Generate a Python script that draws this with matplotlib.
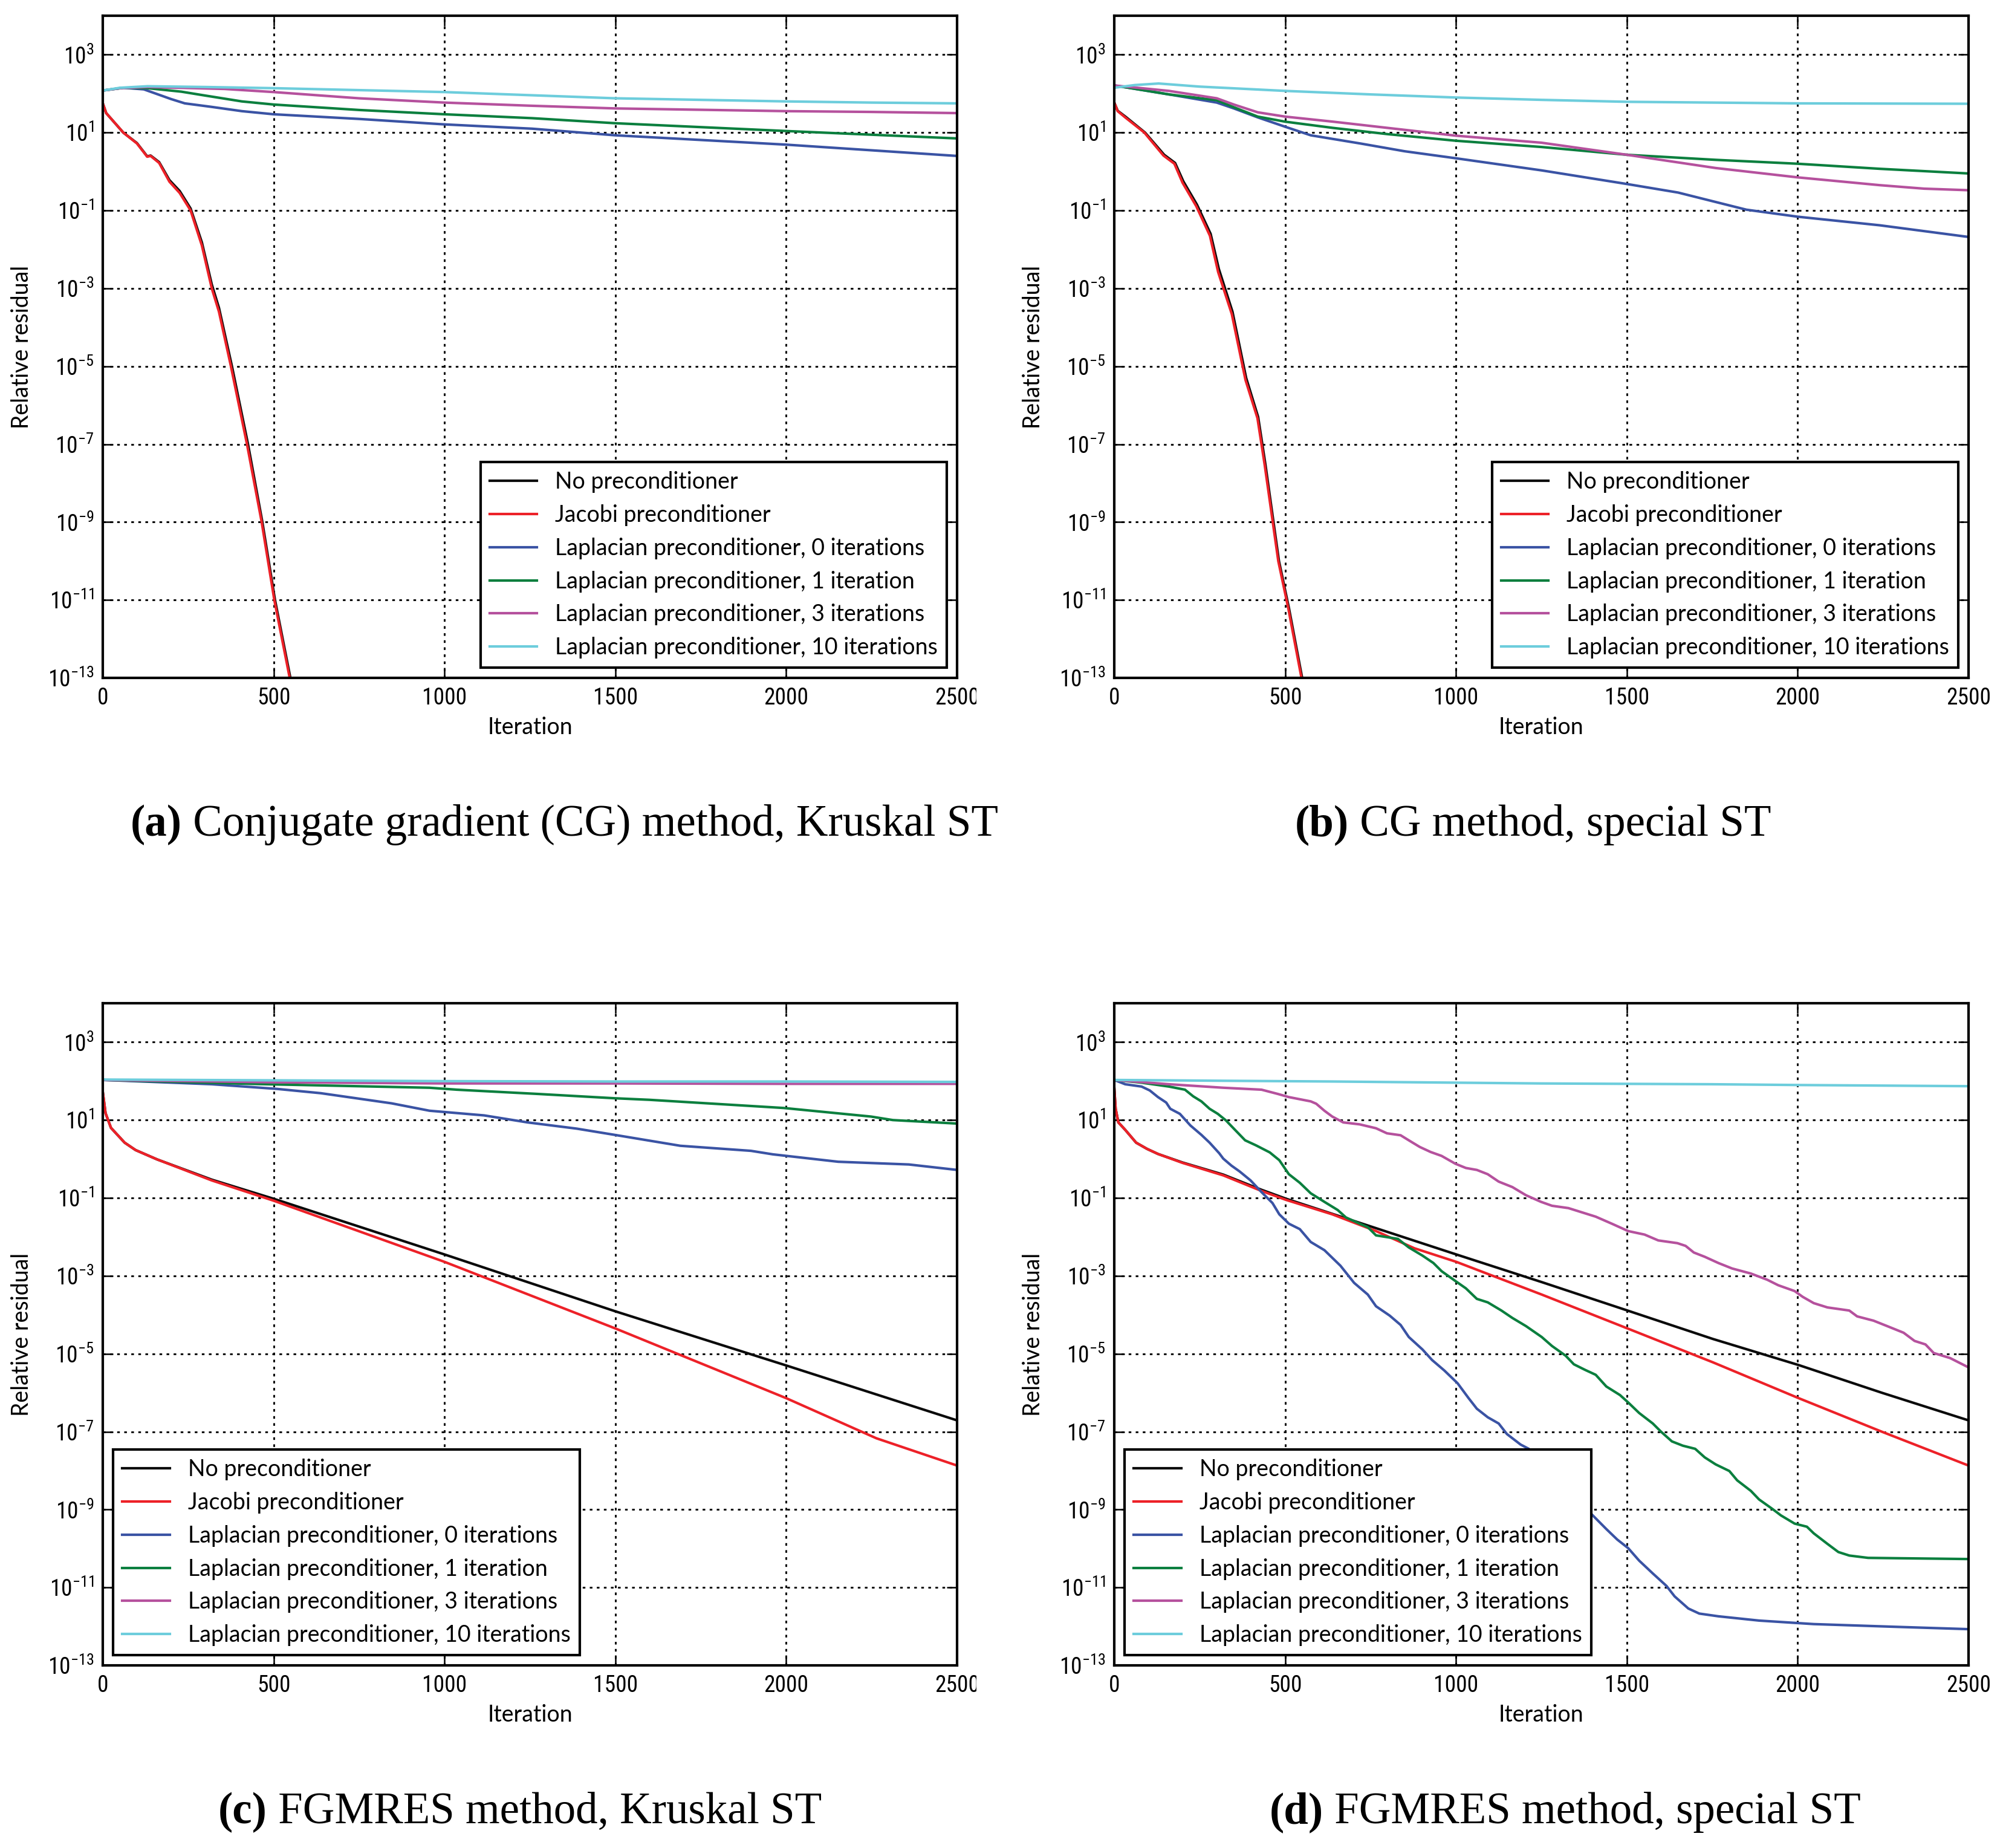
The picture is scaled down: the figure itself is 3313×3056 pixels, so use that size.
import numpy as np
import matplotlib
matplotlib.use('Agg')
import matplotlib.pyplot as plt
from matplotlib import font_manager
from matplotlib.transforms import Bbox, TransformedBbox


def pick_font(*names):
    have = {f.name for f in font_manager.fontManager.ttflist}
    for n in names:
        if n in have:
            return n
    return 'DejaVu Sans'


SANS = pick_font('Lato', 'Open Sans', 'Noto Sans')
TICK = pick_font('Liberation Sans Narrow', 'Roboto Condensed', 'DejaVu Sans')
SERIF = pick_font('Liberation Serif', 'DejaVu Serif')

# (iteration, log10 relative residual)
# --- (a) CG, Kruskal ST ---
A_NONE = [(0, 1.75), (10, 1.5), (30, 1.3), (60, 1.0), (100, 0.73), (130, 0.39), (140, 0.41),
          (165, 0.24), (195, -0.22), (225, -0.5), (257, -0.95), (290, -1.82), (319, -2.9),
          (340, -3.5), (378, -5.0), (425, -7.0), (467, -9.0), (504, -11.0), (549, -13.0), (562, -13.6)]
A_JACOBI = [(0, 1.75), (10, 1.5), (30, 1.3), (60, 1.0), (100, 0.72), (130, 0.38), (140, 0.40),
            (165, 0.22), (195, -0.26), (225, -0.55), (257, -1.0), (290, -1.9), (319, -3.0),
            (340, -3.6), (375, -5.0), (422, -7.0), (465, -9.0), (502, -11.0), (547, -13.0), (560, -13.6)]
A_LAP0 = [(0, 2.08), (60, 2.15), (120, 2.11), (200, 1.86), (240, 1.75), (318, 1.66), (407, 1.55),
          (500, 1.47), (750, 1.35), (1000, 1.21), (1256, 1.10), (1500, 0.93), (2000, 0.69), (2500, 0.40)]
A_LAP1 = [(0, 2.08), (60, 2.15), (131, 2.14), (230, 2.05), (300, 1.95), (407, 1.80), (500, 1.72),
          (750, 1.58), (1000, 1.47), (1256, 1.37), (1500, 1.24), (2000, 1.04), (2500, 0.85)]
A_LAP3 = [(0, 2.08), (50, 2.14), (131, 2.17), (356, 2.12), (500, 2.04), (750, 1.88), (1000, 1.77),
          (1250, 1.69), (1500, 1.62), (2000, 1.55), (2250, 1.53), (2500, 1.50)]
A_LAP10 = [(0, 2.08), (50, 2.15), (131, 2.19), (300, 2.17), (500, 2.14), (750, 2.09), (1000, 2.04),
           (1250, 1.96), (1500, 1.88), (1750, 1.84), (2000, 1.80), (2250, 1.77), (2500, 1.75)]

# --- (b) CG, special ST ---
B_NONE = [(0, 1.77), (10, 1.56), (34, 1.40), (90, 1.0), (146, 0.43), (178, 0.22), (202, -0.25),
          (242, -0.85), (282, -1.6), (306, -2.5), (346, -3.6), (386, -5.3), (421, -6.3),
          (442, -7.5), (482, -10.0), (511, -11.2), (549, -12.96), (562, -13.6)]
B_JACOBI = [(0, 1.77), (10, 1.55), (32, 1.39), (88, 1.0), (144, 0.41), (176, 0.20), (200, -0.29),
            (240, -0.89), (280, -1.65), (304, -2.58), (344, -3.66), (384, -5.35), (419, -6.33),
            (440, -7.52), (480, -10.0), (509, -11.2), (547, -12.96), (560, -13.6)]
B_LAP0 = [(0, 2.21), (160, 1.98), (300, 1.77), (350, 1.62), (420, 1.39), (500, 1.15), (575, 0.93),
          (720, 0.72), (850, 0.52), (1000, 0.34), (1250, 0.03), (1500, -0.32), (1650, -0.54),
          (1850, -0.98), (2000, -1.16), (2240, -1.38), (2500, -1.68)]
B_LAP1 = [(0, 2.21), (160, 1.98), (300, 1.83), (350, 1.65), (420, 1.41), (500, 1.28), (640, 1.12),
          (800, 0.96), (1000, 0.79), (1250, 0.63), (1500, 0.43), (1760, 0.30), (2000, 0.20),
          (2240, 0.07), (2500, -0.05)]
B_LAP3 = [(0, 2.21), (160, 2.07), (300, 1.88), (350, 1.72), (420, 1.52), (500, 1.41), (640, 1.28),
          (1000, 0.92), (1250, 0.74), (1500, 0.43), (1760, 0.09), (2000, -0.15), (2240, -0.35),
          (2370, -0.44), (2500, -0.48)]
B_LAP10 = [(0, 2.15), (60, 2.22), (130, 2.26), (250, 2.18), (500, 2.07), (750, 1.98), (1000, 1.90),
           (1250, 1.84), (1500, 1.79), (2000, 1.75), (2500, 1.74)]

# --- (c) FGMRES, Kruskal ST ---
C_NONE = [(0, 1.72), (8, 1.18), (24, 0.80), (64, 0.42), (96, 0.23), (159, -0.01), (319, -0.53),
          (500, -1.02), (1000, -2.45), (1500, -3.91), (2000, -5.30), (2500, -6.71)]
C_JACOBI = [(0, 1.72), (8, 1.18), (24, 0.80), (64, 0.42), (96, 0.23), (159, -0.01), (319, -0.55),
            (500, -1.07), (1000, -2.64), (1500, -4.35), (2000, -6.14), (2264, -7.17), (2500, -7.87)]
C_LAP0 = [(0, 2.03), (319, 1.92), (510, 1.80), (638, 1.69), (845, 1.43), (956, 1.24), (1116, 1.12),
          (1243, 0.94), (1387, 0.78), (1498, 0.62), (1690, 0.34), (1897, 0.21), (1961, 0.12),
          (2152, -0.07), (2359, -0.14), (2500, -0.28)]
C_LAP1 = [(0, 2.03), (478, 1.92), (956, 1.83), (1036, 1.78), (1275, 1.67), (1498, 1.56), (1600, 1.52),
          (1993, 1.31), (2248, 1.09), (2312, 1.0), (2500, 0.91)]
C_LAP3 = [(0, 2.03), (500, 1.97), (1000, 1.94), (1500, 1.94), (2000, 1.93), (2500, 1.93)]
C_LAP10 = [(0, 2.04), (500, 2.02), (1000, 2.0), (1500, 1.99), (2000, 1.99), (2500, 1.98)]

# --- (d) FGMRES, special ST ---
D_NONE = [(0, 1.83), (4, 1.29), (12, 0.94), (32, 0.75), (64, 0.42), (96, 0.26), (128, 0.13),
          (200, -0.09), (319, -0.40), (431, -0.79), (503, -1.02), (1001, -2.45), (1251, -3.16),
          (1502, -3.89), (1752, -4.62), (2003, -5.29), (2246, -6.00), (2500, -6.71)]
D_JACOBI = [(0, 1.83), (4, 1.29), (12, 0.94), (32, 0.75), (64, 0.42), (96, 0.26), (128, 0.13),
            (200, -0.10), (319, -0.42), (431, -0.82), (503, -1.05), (638, -1.42), (766, -1.85),
            (878, -2.29), (1001, -2.64), (1117, -3.03), (1251, -3.48), (1502, -4.35), (1752, -5.22),
            (2003, -6.14), (2246, -7.00), (2500, -7.87)]
D_LAP0 = [(0, 2.03), (32, 1.92), (80, 1.86), (104, 1.76), (128, 1.59), (152, 1.45), (164, 1.29),
          (192, 1.16), (223, 0.86), (255, 0.62), (279, 0.42), (307, 0.15), (319, 0.01), (343, -0.17),
          (367, -0.32), (399, -0.55), (431, -0.85), (463, -1.13), (483, -1.42), (511, -1.66),
          (543, -1.80), (575, -2.13), (615, -2.34), (662, -2.74), (702, -3.18), (742, -3.48),
          (766, -3.78), (806, -4.02), (838, -4.26), (862, -4.57), (902, -4.89), (930, -5.16),
          (966, -5.43), (1005, -5.76), (1037, -6.14), (1061, -6.41), (1093, -6.63), (1125, -6.79),
          (1149, -7.06), (1189, -7.33), (1213, -7.44), (1300, -8.2), (1397, -9.12), (1440, -9.50),
          (1472, -9.77), (1504, -9.99), (1536, -10.31), (1576, -10.64), (1616, -10.96),
          (1640, -11.23), (1680, -11.54), (1712, -11.67), (1768, -11.74), (1887, -11.85),
          (2047, -11.94), (2286, -12.01), (2500, -12.07)]
D_LAP1 = [(0, 2.03), (80, 1.96), (160, 1.86), (207, 1.78), (231, 1.61), (255, 1.48), (279, 1.29),
          (303, 1.16), (327, 0.99), (351, 0.77), (383, 0.48), (415, 0.35), (455, 0.17), (483, -0.03),
          (511, -0.39), (543, -0.61), (575, -0.88), (615, -1.10), (654, -1.31), (678, -1.50),
          (718, -1.66), (742, -1.75), (766, -1.96), (830, -2.05), (862, -2.27), (902, -2.48),
          (934, -2.67), (958, -2.88), (998, -3.13), (1029, -3.32), (1061, -3.59), (1093, -3.68),
          (1133, -3.89), (1165, -4.08), (1205, -4.29), (1251, -4.57), (1281, -4.80), (1321, -5.05),
          (1345, -5.27), (1377, -5.41), (1409, -5.54), (1440, -5.84), (1480, -6.06), (1504, -6.25),
          (1536, -6.52), (1576, -6.79), (1600, -7.00), (1632, -7.25), (1664, -7.36), (1700, -7.44),
          (1728, -7.66), (1760, -7.84), (1800, -8.01), (1823, -8.25), (1863, -8.52), (1887, -8.74),
          (1927, -8.99), (1951, -9.15), (1991, -9.36), (2027, -9.44), (2047, -9.61), (2087, -9.88),
          (2119, -10.09), (2151, -10.18), (2206, -10.24), (2500, -10.27)]
D_LAP3 = [(0, 2.03), (160, 1.92), (319, 1.83), (431, 1.78), (479, 1.67), (511, 1.59), (575, 1.48),
          (591, 1.42), (615, 1.24), (638, 1.09), (670, 0.94), (718, 0.89), (766, 0.79), (798, 0.66),
          (838, 0.61), (862, 0.48), (894, 0.31), (926, 0.18), (958, 0.08), (998, -0.12),
          (1029, -0.23), (1061, -0.28), (1093, -0.39), (1125, -0.58), (1165, -0.72), (1205, -0.93),
          (1249, -1.10), (1281, -1.20), (1329, -1.26), (1369, -1.37), (1409, -1.48), (1456, -1.66),
          (1504, -1.85), (1552, -1.94), (1592, -2.09), (1648, -2.16), (1672, -2.23), (1696, -2.40),
          (1728, -2.51), (1768, -2.67), (1808, -2.81), (1863, -2.94), (1911, -3.10), (1943, -3.24),
          (1991, -3.39), (2015, -3.54), (2047, -3.70), (2087, -3.81), (2151, -3.89), (2174, -4.04),
          (2222, -4.15), (2262, -4.29), (2310, -4.46), (2342, -4.67), (2374, -4.76), (2398, -4.98),
          (2446, -5.11), (2500, -5.35)]
D_LAP10 = [(0, 2.03), (300, 2.01), (640, 1.99), (1000, 1.96), (1250, 1.94), (1750, 1.92),
           (2000, 1.90), (2500, 1.87)]

LABELS = ['No preconditioner', 'Jacobi preconditioner',
          'Laplacian preconditioner, 0 iterations', 'Laplacian preconditioner, 1 iteration',
          'Laplacian preconditioner, 3 iterations', 'Laplacian preconditioner, 10 iterations']
COLORS = ['#0a0a0a', '#ED2128', '#3A53A4', '#0B7F3E', '#B5519D', '#6DCDDC']

CAPTIONS = [('(a)', 'Conjugate gradient (CG) method, Kruskal ST'),
            ('(b)', 'CG method, special ST'),
            ('(c)', 'FGMRES method, Kruskal ST'),
            ('(d)', 'FGMRES method, special ST')]

PANELS = [[A_NONE, A_JACOBI, A_LAP0, A_LAP1, A_LAP3, A_LAP10],
          [B_NONE, B_JACOBI, B_LAP0, B_LAP1, B_LAP3, B_LAP10],
          [C_NONE, C_JACOBI, C_LAP0, C_LAP1, C_LAP3, C_LAP10],
          [D_NONE, D_JACOBI, D_LAP0, D_LAP1, D_LAP3, D_LAP10]]
LEGEND_LOC = ['lower right', 'lower right', 'lower left', 'lower left']

W, H = 3313, 3056
fig = plt.figure(figsize=(W / 300, H / 300), dpi=300)

# axes boxes in pixels: left, top
boxes = [(170, 26), (1843, 26), (170, 1659), (1843, 1659)]
AW, AH = 1413, 1095
cap_center = [933, 2536, 860, 2589]
cap_base = [1382, 1382, 3015, 3015]

for i, series in enumerate(PANELS):
    left, top = boxes[i]
    ax = fig.add_axes([left / W, 1 - (top + AH) / H, AW / W, AH / H])
    for s, lab, col in zip(series, LABELS, COLORS):
        it = np.array([p[0] for p in s], dtype=float)
        res = 10.0 ** np.array([p[1] for p in s])
        ax.plot(it, res, color=col, lw=1.0, label=lab)
    ax.set_yscale('log')
    ax.set_xlim(0, 2500)
    ax.set_ylim(1e-13, 1e4)
    ax.set_xticks([0, 500, 1000, 1500, 2000, 2500])
    ax.set_yticks(10.0 ** np.arange(-13, 4, 2))
    ax.yaxis.set_minor_locator(matplotlib.ticker.NullLocator())
    ax.grid(True, color='black', lw=0.7, linestyle=(0, (1.5, 2.5)))
    ax.tick_params(direction='in', top=True, right=True, length=4, width=0.6,
                   labelsize=9, pad=3.5, labelfontfamily=TICK)
    for sp in ax.spines.values():
        sp.set_linewidth(1.0)
    ax.set_xlabel('Iteration', fontsize=9, family=SANS)
    ax.set_ylabel('Relative residual', fontsize=9, family=SANS)
    ax.xaxis.set_label_coords(0.5, -0.058)
    ax.yaxis.set_label_coords(-0.082, 0.5)
    leg = ax.legend(loc=LEGEND_LOC[i], prop={'family': SANS, 'size': 9}, fancybox=False,
                    framealpha=1, edgecolor='black', handlelength=2.1, handletextpad=0.8,
                    labelspacing=0.5, borderaxespad=0.45)
    leg.get_frame().set_linewidth(1.0)
    if i in (0, 2):
        # the last x tick label is cut by the subfigure edge
        clip = TransformedBbox(Bbox([[0, 0], [1615 / W, 1]]), fig.transFigure)
        lab = ax.get_xticklabels()[-1]
        lab.set_clip_box(clip)
        lab.set_clip_on(True)

# captions: bold tag + regular text, centred as one line
renderer = fig.canvas.get_renderer()
for (tag, text), cx, by in zip(CAPTIONS, cap_center, cap_base):
    t1 = fig.text(0, 1 - by / H, tag, fontsize=17.5, family=SERIF, weight='bold', va='baseline')
    t2 = fig.text(0, 1 - by / H, ' ' + text, fontsize=17.5, family=SERIF, va='baseline')
    w1 = t1.get_window_extent(renderer).width
    w2 = t2.get_window_extent(renderer).width
    x0 = cx - (w1 + w2) / 2
    t1.set_x(x0 / W)
    t2.set_x((x0 + w1) / W)

fig.savefig('out.png', dpi=300)
